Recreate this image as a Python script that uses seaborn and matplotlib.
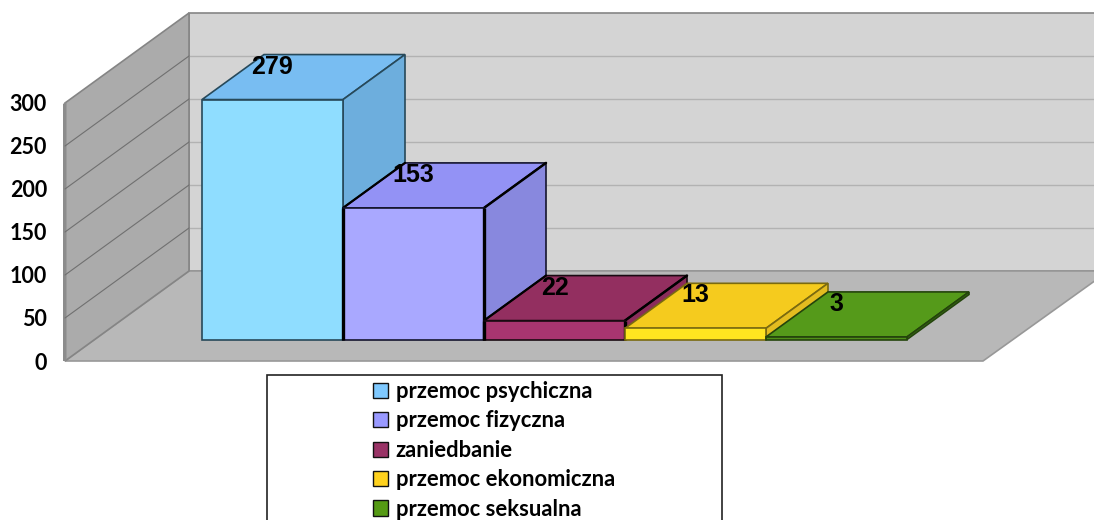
import matplotlib
matplotlib.use("Agg")
import matplotlib.pyplot as plt
import pandas as pd
import seaborn as sns
from matplotlib.patches import Polygon, Rectangle

# data
categories = ['przemoc psychiczna', 'przemoc fizyczna', 'zaniedbanie',
              'przemoc ekonomiczna', 'przemoc seksualna']
values = [279, 153, 22, 13, 3]
y_ticks = [0, 50, 100, 150, 200, 250, 300]

# colours of the faces
front_colors = ['#8FDDFF', '#A9A8FF', '#A83570', '#FFE620', '#4F8F18']
top_colors = ['#78BDF2', '#9392F5', '#932F60', '#F5CB1E', '#559A1A']
side_colors = ['#6DAEDD', '#8888DE', '#8A2C5B', '#E3BC20', '#3F7A14']
edge_colors = ['#27495A', '#15152E', '#1A0A12', '#7A6A10', '#24440C']
legend_colors = ['#7FC9FF', '#9999FF', '#993366', '#FFD21E', '#559A14']

W, H = 1094, 520
PX_PER_UNIT = 0.86
BASE_PX = 339.5
BAR_LEFT = 202
BAR_W = 141
DEPTH = (62, -45)       # depth of a bar in pixels
WALL_DEPTH = (124, -90)
FLOOR_FRONT = 361


def X(px):
    return (px - BAR_LEFT - BAR_W / 2) / BAR_W


def Y(py):
    return (BASE_PX - py) / PX_PER_UNIT


def poly(ax, pts, z, **kw):
    ax.add_patch(Polygon([(X(a), Y(b)) for a, b in pts], closed=True, zorder=z, **kw))


sns.set_theme(style='white')
plt.rcParams['font.family'] = ['Lato', 'DejaVu Sans']
plt.rcParams['font.weight'] = 'bold'

fig = plt.figure(figsize=(W / 100, H / 100), dpi=100)
ax = fig.add_axes([0, 0, 1, 1])
ax.patch.set_alpha(0)

df = pd.DataFrame({'kategoria': categories, 'liczba': values})
sns.barplot(data=df, x='kategoria', y='liczba', hue='kategoria', palette=front_colors,
            dodge=False, width=1, saturation=1, legend=True, ax=ax)
ax.set_xlim(X(0), X(W))
ax.set_ylim(Y(H), Y(0))
ax.set_xlabel('')
ax.set_ylabel('')
ax.set_xticks([])
ax.set_yticks([])
sns.despine(ax=ax, left=True, bottom=True)

# walls and floor
x0, x1 = 65, 65 + WALL_DEPTH[0]
top_front = FLOOR_FRONT - 300 * PX_PER_UNIT
top_back = top_front + WALL_DEPTH[1]
floor_back = FLOOR_FRONT + WALL_DEPTH[1]
poly(ax, [(x1, top_back), (W + 2, top_back), (W + 2, floor_back), (x1, floor_back)], 0.1,
     facecolor='#D4D4D4', edgecolor='#858585', lw=1.2)
poly(ax, [(x0, FLOOR_FRONT), (x1, floor_back), (W + 2, floor_back), (W + 2, 280), (983, FLOOR_FRONT)], 0.2,
     facecolor='#B8B8B8', edgecolor='#989898', lw=1.2)
poly(ax, [(x0, top_front), (x1, top_back), (x1, floor_back), (x0, FLOOR_FRONT)], 0.3,
     facecolor='#ABABAB', edgecolor='#858585', lw=1.2)
poly(ax, [(63, top_front + 1), (66.5, top_front - 1.5), (66.5, FLOOR_FRONT), (63, FLOOR_FRONT)], 0.4,
     facecolor='#8C8C8C', edgecolor='none')
for v in y_ticks[1:-1]:
    yf = FLOOR_FRONT - v * PX_PER_UNIT
    yb = yf + WALL_DEPTH[1]
    ax.plot([X(x0), X(x1)], [Y(yf), Y(yb)], color='#707070', lw=0.8, zorder=0.5)
    ax.plot([X(x1), X(W)], [Y(yb), Y(yb)], color='#B2B2B2', lw=1.0, zorder=0.15)

# depth faces, built from the bars that seaborn drew
dx = DEPTH[0] / BAR_W
dy = -DEPTH[1] / PX_PER_UNIT
for i, cont in enumerate(ax.containers):
    bar = cont[0]
    l, r, h = bar.get_x(), bar.get_x() + bar.get_width(), bar.get_height()
    bar.set_zorder(3 * i + 3)
    bar.set_edgecolor(edge_colors[i])
    bar.set_linewidth(1.2)
    ax.add_patch(Polygon([(l, h), (l + dx, h + dy), (r + dx, h + dy), (r, h)], closed=True,
                         facecolor=top_colors[i], edgecolor=edge_colors[i], lw=1.2, zorder=3 * i + 2))
    ax.add_patch(Polygon([(r, 0), (r + dx, dy), (r + dx, h + dy), (r, h)], closed=True,
                         facecolor=side_colors[i], edgecolor=edge_colors[i], lw=1.2, zorder=3 * i + 2))
    if i in (1, 2):
        # heavy outline on the purple and maroon boxes
        ax.plot([r, r + dx], [h, h + dy], color='black', lw=1.8, zorder=3 * i + 2.5)
        ax.plot([l, l + dx], [h, h + dy], color='black', lw=1.6, zorder=3 * i + 2.5)
        ax.plot([l, l], [0, h], color='black', lw=2.4, zorder=3 * i + 3.5, solid_capstyle='butt')
        ax.plot([r, r], [0, h], color='black', lw=2.4, zorder=3 * i + 3.5, solid_capstyle='butt')
    ax.annotate(str(values[i]), (l + (r - l) / 2, h), xytext=(0, 33 / 100 * 72),
                textcoords='offset points', ha='center', va='center', fontsize=18,
                fontweight='bold', family=['Liberation Sans', 'DejaVu Sans'], color='black', zorder=40)

# value axis, its zero sits on the front edge of the floor
zero_shift = (FLOOR_FRONT - BASE_PX) / PX_PER_UNIT
sec = ax.secondary_yaxis(47 / W, functions=(lambda v: v + zero_shift, lambda v: v - zero_shift))
sec.set_yticks(y_ticks)
sec.tick_params(length=0, pad=0, labelsize=15.5, labelcolor='black')
sec.spines['left'].set_visible(False)

# legend
ax.add_patch(Rectangle((X(266.5), Y(H + 10)), X(722) - X(266.5), Y(374.5) - Y(H + 10),
                       facecolor='white', edgecolor='#222222', lw=1.2, zorder=50))
sns.move_legend(ax, 'upper left', bbox_to_anchor=(373 / W, 1 - 381 / H), frameon=False, title=None,
                fontsize=15.8, handlelength=0.7, handleheight=0.7, labelspacing=0.385,
                handletextpad=0.34, borderpad=0, borderaxespad=0)
leg = ax.get_legend()
leg.set_zorder(60)
for handle, c in zip(leg.legend_handles, legend_colors):
    handle.set_facecolor(c)
    handle.set_edgecolor('#111111')
    handle.set_linewidth(1.0)
for t in leg.get_texts():
    t.set_color('black')

fig.savefig('out.png', dpi=100)
